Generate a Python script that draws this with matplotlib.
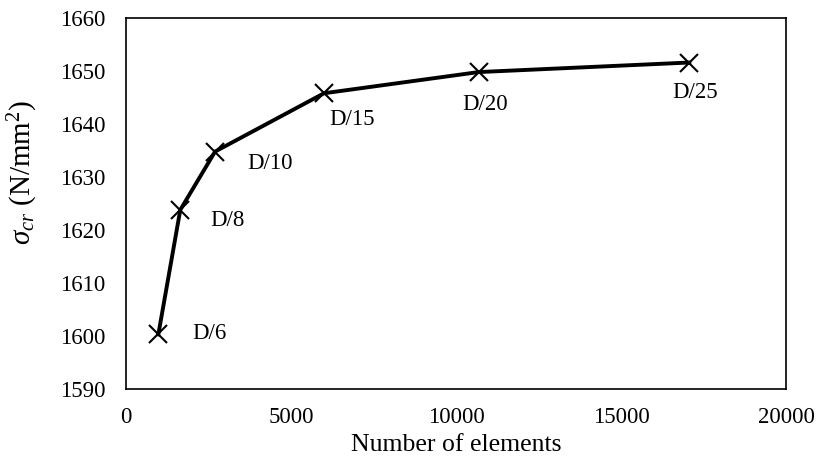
import matplotlib
matplotlib.use("Agg")
import matplotlib.pyplot as plt

elements = [980, 1645, 2700, 6000, 10690, 17070]
sigma_cr = [1600.3, 1623.8, 1634.8, 1645.8, 1649.8, 1651.6]
mesh_labels = ["D/6", "D/8", "D/10", "D/15", "D/20", "D/25"]
label_offsets_px = [(34, 1), (30, -11), (32, -12), (5, -26), (-16, -32), (-17, -30)]

plt.rcParams['font.family'] = ['Liberation Serif', 'DejaVu Serif']
plt.rcParams['mathtext.fontset'] = 'custom'
plt.rcParams['mathtext.rm'] = 'Liberation Serif'
plt.rcParams['mathtext.it'] = 'Liberation Serif:italic'

fig = plt.figure(figsize=(8.18, 4.68), dpi=100)
ax = fig.add_axes([126/818, 1 - 389/468, (786-126)/818, (389-18)/468])

ax.plot(elements, sigma_cr, color='black', lw=2.8, marker='x', ms=13.5, mew=1.5)
for xv, yv, lab, off in zip(elements, sigma_cr, mesh_labels, label_offsets_px):
    ax.annotate(lab, (xv, yv), xytext=off, textcoords='offset pixels',
                fontsize=16.5, ha='left', va='center')

ax.set_xlim(0, 20000)
ax.set_ylim(1590, 1660)
ax.set_xticks([0, 5000, 10000, 15000, 20000])
ax.set_yticks(range(1590, 1661, 10))
ax.tick_params(length=0, labelsize=16.5)
ax.tick_params(axis='y', pad=15)
ax.tick_params(axis='x', pad=13)
for s in ax.spines.values():
    s.set_linewidth(1.2)
ax.set_xlabel("Number of elements", fontsize=18.5, labelpad=4)
ax.set_ylabel(r"$\sigma_{cr}$ (N/mm$^2$)", fontsize=21)
ax.yaxis.set_label_coords(-0.130, 0.585)

fig.savefig("out.png", dpi=100)
